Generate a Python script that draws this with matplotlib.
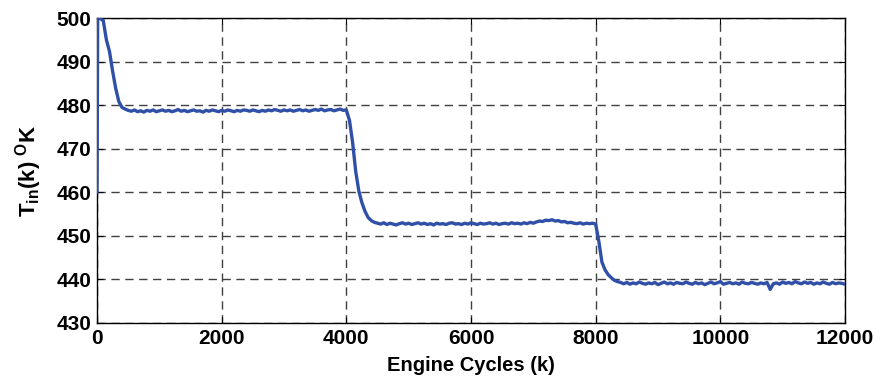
import numpy as np
import matplotlib
matplotlib.use("Agg")
import matplotlib.pyplot as plt

fam = "Liberation Sans"
plt.rcParams['font.family'] = [fam, 'DejaVu Sans']
plt.rcParams['mathtext.fontset'] = 'custom'
plt.rcParams['mathtext.rm'] = fam + ':bold'
plt.rcParams['mathtext.bf'] = fam + ':bold'
plt.rcParams['mathtext.it'] = fam + ':bold'

# 采样点 (engine cycles)
cycles = np.concatenate([[0, 10], np.arange(50, 12001, 50)])

start = [460.0, 500.0]
drop0 = [499.9, 499.4, 495.0, 492.3, 487.8, 483.8, 480.8, 479.5, 479.1, 478.8]
level1 = [478.6, 478.9, 478.5, 478.7, 478.4, 478.8, 478.6, 478.9, 478.5, 478.7,
          478.9, 478.6, 478.8, 478.5, 478.7, 479.0, 478.6, 478.8, 478.5, 478.7,
          478.9, 478.6, 478.7, 478.4, 478.8, 478.6, 478.9, 478.7, 478.5, 478.8,
          478.6, 478.9, 478.7, 478.5, 478.8, 478.6, 478.9, 478.8, 478.6, 478.9,
          478.7, 478.5, 478.8, 478.6, 478.9, 478.7, 479.0, 478.8, 478.6, 478.9,
          478.7, 478.9, 478.6, 478.8, 479.0, 478.7, 478.9, 478.6, 478.8, 479.0,
          478.8, 479.1, 478.7, 478.9, 479.0, 478.7, 478.9, 479.1, 478.8, 478.9]
drop1 = [476.5, 471.5, 464.8, 460.3, 457.6, 455.6, 454.2, 453.5, 453.1, 452.9]
level2 = [452.7, 453.0, 452.6, 452.9, 452.7, 452.5, 452.8, 453.0, 452.7, 452.9,
          452.6, 452.8, 453.0, 452.7, 452.9, 452.6, 452.8, 452.5, 452.9, 452.7,
          452.8, 452.6, 452.9, 453.0, 452.7, 452.8, 452.6, 452.9, 452.7, 453.0,
          452.8, 452.6, 452.9, 452.7, 452.8, 453.0, 452.7, 452.9, 452.6, 452.8,
          452.9, 452.7, 453.0, 452.8, 452.9, 452.7, 453.0, 452.8, 453.1, 452.9,
          453.2, 453.4, 453.3, 453.6, 453.5, 453.7, 453.4, 453.5, 453.2, 453.3,
          453.0, 453.1, 452.9, 452.8, 453.0, 452.7, 452.9, 452.8, 452.9]
drop2 = [452.7, 448.8, 444.0, 442.2, 441.1, 440.4, 439.8, 439.5, 439.3]
level3 = [439.0, 439.3, 438.9, 439.2, 439.0, 439.4, 439.1, 438.9, 439.2, 439.0,
          439.3, 438.8, 439.1, 439.4, 439.0, 439.2, 438.9, 439.3, 439.1, 439.0,
          439.4, 439.1, 438.9, 439.3, 439.0, 439.2, 438.8, 439.1, 439.4, 439.0,
          439.2, 439.5, 438.9, 439.1, 439.3, 439.0, 439.2, 438.9, 439.4, 439.1,
          439.0, 439.3, 439.1, 438.9, 439.2, 439.0, 439.3, 437.7, 439.0, 439.2,
          438.9, 439.4, 439.1, 439.3, 439.0, 439.5, 439.2, 439.0, 439.4, 439.1,
          439.3, 438.9, 439.2, 439.0, 439.4, 439.1, 438.9, 439.3, 439.0, 439.2,
          439.1, 438.9]

t_in = np.array(start + drop0 + level1 + drop1 + level2 + drop2 + level3)

xticks = [0, 2000, 4000, 6000, 8000, 10000, 12000]
yticks = [430, 440, 450, 460, 470, 480, 490, 500]

fig = plt.figure(figsize=(8.75, 3.79), dpi=100)
ax = fig.add_axes([0.1109, 0.1478, 0.8548, 0.8047])

ax.plot(cycles, t_in, color='#3050a8', lw=2.4, zorder=3)

ax.set_xlim(0, 12000)
ax.set_ylim(430, 500)
ax.set_xticks(xticks)
ax.set_yticks(yticks)
ax.grid(True, ls=(0, (6, 4)), color='#404040', lw=1.0)
ax.tick_params(direction='in', length=4, width=0.8, top=True, right=True,
               labelsize=15, pad=4)
for lab in ax.get_xticklabels() + ax.get_yticklabels():
    lab.set_fontweight('bold')
for sp in ax.spines.values():
    sp.set_linewidth(1.0)

ax.set_xlabel('Engine Cycles (k)', fontsize=14.5, fontweight='bold', labelpad=6)
ax.set_ylabel(r'T$_{\mathbf{in}}$(k) $^{\mathbf{O}}$K', fontsize=16, fontweight='bold', labelpad=9)

fig.savefig('out.png', dpi=100)
